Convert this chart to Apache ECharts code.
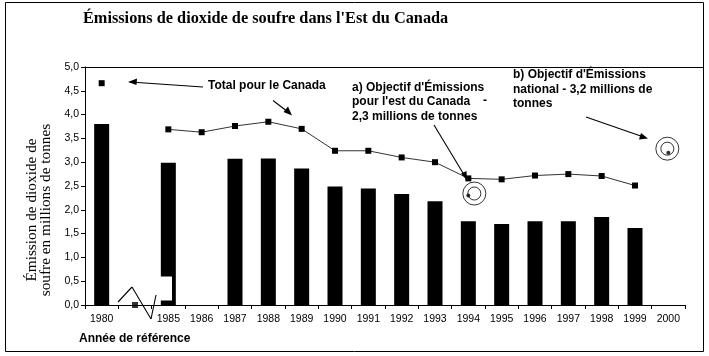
<!DOCTYPE html>
<html><head><meta charset="utf-8">
<script src="https://cdn.jsdelivr.net/npm/echarts@6/dist/echarts.min.js"></script>
<style>html,body{margin:0;padding:0;background:#fff}#c{width:709px;height:356px}</style>
</head><body><div id="c"></div>
<script>
const categories = ['1980','','1985','1986','1987','1988','1989','1990','1991','1992','1993','1994','1995','1996','1997','1998','1999','2000'];
const eastEmissions = [3.80,'-',2.99,'-',3.07,3.08,2.87,2.49,2.45,2.33,2.18,1.76,1.70,1.76,1.76,1.85,1.62,'-'];
const canadaTotal = [4.66,'-',3.69,3.63,3.76,3.85,3.70,3.24,3.24,3.10,3.00,2.66,2.64,2.72,2.75,2.71,2.51,'-'];
const breakPoint = ['-',0,'-','-','-','-','-','-','-','-','-','-','-','-','-','-','-','-'];
const targetYears = ['1994','2000'];
const targetValues = [2.3, 3.2];
const yTicks = [0,0.5,1,1.5,2,2.5,3,3.5,4,4.5,5];

const SANS = 'Liberation Sans, Arial, sans-serif';
const SERIF = 'Liberation Serif, Times New Roman, serif';
const ringOffsets = [[6,-2],[-1,-4]];
const targetData = targetYears.map((y,i)=>[y,targetValues[i]]);
const ringData = (i)=>({value:targetData[i], symbolOffset:ringOffsets[i]});

const seg = (x1,y1,x2,y2)=>({type:'line', shape:{x1,y1,x2,y2}, style:{stroke:'#000', lineWidth:1.1}, z:101, silent:true});

const chart = echarts.init(document.getElementById('c'), null, {renderer:'canvas'});
chart.setOption({
  animation:false,
  backgroundColor:'#fff',
  grid:{left:85, right:24, top:67, bottom:51, containLabel:false},
  xAxis:{type:'category', data:categories,
    axisLine:{lineStyle:{color:'#000', width:1}},
    axisTick:{show:true, length:4, lineStyle:{color:'#000'}},
    axisLabel:{color:'#000', fontFamily:SANS, fontSize:10.5, margin:9, interval:0}},
  yAxis:{type:'value', min:0, max:5, interval:0.5,
    axisLine:{show:true, lineStyle:{color:'#000', width:1}},
    axisTick:{show:true, length:4, lineStyle:{color:'#000'}},
    splitLine:{show:false},
    axisLabel:{color:'#000', fontFamily:SANS, fontSize:10.5, margin:6,
      formatter:v=>yTicks.indexOf(v)>=0 ? v.toFixed(1).replace('.',',') : ''}},
  series:[
    {type:'bar', name:'Est du Canada', data:eastEmissions, barWidth:15, itemStyle:{color:'#000'}, z:2},
    {type:'line', name:'Total pour le Canada', data:canadaTotal, connectNulls:false,
      showSymbol:true, showAllSymbol:true, symbol:'rect', symbolSize:6,
      itemStyle:{color:'#000'}, lineStyle:{color:'#333', width:1}, z:3},
    {type:'scatter', data:breakPoint, symbol:'rect', symbolSize:6, itemStyle:{color:'#000'}, z:3},
    {type:'scatter', data:targetData, symbol:'circle', symbolSize:4, itemStyle:{color:'#000'}, z:4},
    {type:'scatter', data:[ringData(0),ringData(1)], symbol:'circle', symbolSize:13,
      itemStyle:{color:'rgba(0,0,0,0)', borderColor:'#000', borderWidth:1}, z:4},
    {type:'scatter', data:[ringData(0),ringData(1)], symbol:'circle', symbolSize:23,
      itemStyle:{color:'rgba(0,0,0,0)', borderColor:'#000', borderWidth:1}, z:4}
  ],
  graphic:[
    {type:'rect', shape:{x:5.5,y:2.5,width:698,height:349}, style:{fill:null, stroke:'#000', lineWidth:1}, z:0, silent:true},
    {type:'line', shape:{x1:85,y1:67.5,x2:703,y2:67.5}, style:{stroke:'#000', lineWidth:1}, z:100},
    {type:'text', x:83, y:19, style:{text:"Émissions de dioxide de soufre dans l'Est du Canada", font:'bold 16.3px '+SERIF, fill:'#000', textVerticalAlign:'middle'}, z:100},
    {type:'text', x:39, y:210, rotation:Math.PI/2, style:{text:'Émission de dioxide de\nsoufre en millions de tonnes', font:'15.3px '+SERIF, fill:'#000', textAlign:'center', textVerticalAlign:'middle', lineHeight:14}, z:100},
    {type:'text', x:79, y:339, style:{text:'Année de référence', font:'bold 12px '+SANS, fill:'#000', textVerticalAlign:'middle'}, z:100},
    {type:'text', x:208, y:86, style:{text:'Total pour le Canada', font:'bold 12px '+SANS, fill:'#000', textVerticalAlign:'middle'}, z:100},
    {type:'text', x:352, y:80, style:{text:"a) Objectif d'Émissions\npour l'est du Canada\n2,3 millions de tonnes", font:'bold 12px '+SANS, fill:'#000', textVerticalAlign:'top', lineHeight:14.5}, z:100},
    {type:'text', x:483, y:101, style:{text:'-', font:'bold 12px '+SANS, fill:'#000', textVerticalAlign:'middle'}, z:100},
    {type:'text', x:513, y:67.5, style:{text:"b) Objectif d'Émissions\nnational - 3,2 millions de\ntonnes", font:'bold 12px '+SANS, fill:'#000', textVerticalAlign:'top', lineHeight:14.5}, z:100},
    // arrows
    seg(203,87,130,82),
    {type:'polygon', shape:{points:[[128,82],[137,78.5],[136.5,85]]}, style:{fill:'#000'}, z:100},
    seg(273,100.5,290,113.5),
    {type:'polygon', shape:{points:[[292,115.5],[283.5,112],[288,106.5]]}, style:{fill:'#000'}, z:100},
    seg(434,125,466,178),
    {type:'polygon', shape:{points:[[467,180.5],[461,173.5],[466.5,171]]}, style:{fill:'#000'}, z:100},
    seg(586,117,645,137.5),
    {type:'polygon', shape:{points:[[648,138.5],[639,139.5],[641,133]]}, style:{fill:'#000'}, z:100},
    // axis break decoration
    {type:'rect', shape:{x:160,y:276.5,width:12,height:24}, style:{fill:'#fff'}, z:100},
    seg(118,302,132,287),
    seg(132,287,151,319),
    seg(151,319,156,295)
  ]
});
</script></body></html>
